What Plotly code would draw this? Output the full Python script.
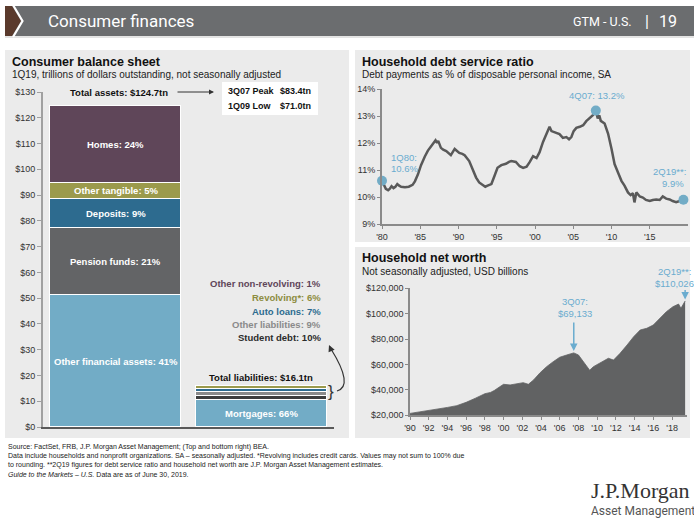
import plotly.graph_objects as go

W, H = 694, 519
def px(x): return x / W
def py(y): return 1 - y / H

FONT = "Liberation Sans, Arial, sans-serif"
LB = "#6aaccf"

# ---------------- DATA ----------------
bar_categories = ["Assets", "Liabilities"]
asset_names = ["Other financial assets", "Pension funds", "Deposits", "Other tangible", "Homes"]
asset_pct = [41, 21, 9, 5, 24]
asset_values = [51.1, 26.2, 11.2, 6.2, 30.0]          # $tn, total 124.7
asset_colors = ["#72acc6", "#636466", "#2d6b8f", "#9b9a4c", "#5f4659"]

liab_names = ["Mortgages", "Student debt", "Other liabilities", "Auto loans", "Revolving*", "Other non-revolving"]
liab_pct = [66, 10, 9, 7, 6, 1]
liab_values = [10.6, 1.6, 1.45, 1.13, 0.97, 0.3]      # $tn, total 16.1
liab_colors = ["#72acc6", "#3d3d3d", "#8a8a8a", "#2d6b8f", "#9b9a4c", "#5f4659"]

bar_ticks = list(range(0, 131, 10))

dsr_year = [1980.0, 1980.25, 1980.5, 1980.8, 1981.0, 1981.25, 1981.5, 1981.75, 1982.0, 1982.25, 1982.5,
            1983.0, 1983.5, 1984.0, 1984.3, 1984.7, 1985.1, 1985.6, 1986.0, 1986.4, 1986.8, 1987.0,
            1987.2, 1987.35, 1987.7, 1988.0, 1988.4, 1988.8, 1989.0, 1989.5, 1989.8, 1990.1, 1990.5,
            1990.8, 1991.4, 1991.9, 1992.3, 1992.7, 1993.2, 1993.5, 1993.8, 1994.3, 1994.7, 1995.1,
            1995.6, 1996.2, 1996.6, 1996.9, 1997.5, 1998.0, 1998.45, 1998.9, 1999.3, 1999.75, 2000.2,
            2000.6, 2001.05, 2001.5, 2001.9, 2002.15, 2002.6, 2003.2, 2003.65, 2004.1, 2004.45, 2004.75,
            2005.05, 2005.4, 2005.85, 2006.3, 2006.7, 2007.15, 2007.6, 2007.95, 2008.2, 2008.4, 2008.6,
            2009.1, 2009.55, 2010.0, 2010.4, 2010.85, 2011.3, 2011.7, 2012.15, 2012.5, 2012.8, 2013.0,
            2013.25, 2013.7, 2014.1, 2014.5, 2015.0, 2015.4, 2015.85, 2016.3, 2016.7, 2017.15, 2017.6,
            2018.0, 2018.45, 2018.9, 2019.4]
dsr_value = [10.6, 10.42, 10.3, 10.25, 10.3, 10.4, 10.33, 10.38, 10.48, 10.42, 10.38,
             10.36, 10.38, 10.45, 10.58, 10.84, 11.18, 11.5, 11.72, 11.87, 12.05, 12.1,
             12.0, 12.08, 11.82, 11.75, 11.7, 11.62, 11.55, 11.78, 11.7, 11.63, 11.6,
             11.55, 11.33, 11.02, 10.72, 10.54, 10.42, 10.38, 10.42, 10.48, 10.78, 11.08,
             11.18, 11.23, 11.3, 11.33, 11.3, 11.14, 11.08, 11.12, 11.29, 11.51, 11.44,
             11.66, 12.04, 12.35, 12.6, 12.44, 12.39, 12.33, 12.19, 12.22, 12.14, 12.22,
             12.44, 12.56, 12.6, 12.66, 12.81, 12.91, 13.04, 13.2, 12.91, 13.02, 12.82,
             12.72, 12.35, 11.79, 11.22, 10.91, 10.6, 10.42, 10.17, 10.07, 10.14, 9.8,
             10.17, 10.02, 9.98, 9.89, 9.85, 9.89, 9.91, 9.89, 10.02, 9.94, 9.91,
             9.85, 9.81, 9.85, 9.9]
dsr_ticks = [1980, 1985, 1990, 1995, 2000, 2005, 2010, 2015]
dsr_ticktext = ["'80", "'85", "'90", "'95", "'00", "'05", "'10", "'15"]
dsr_yticks = [9, 10, 11, 12, 13, 14]

nw_year = [1990.0, 1991.0, 1992.0, 1993.0, 1994.0, 1995.0, 1996.0, 1997.0, 1998.0, 1998.6, 1999.0,
           1999.6, 2000.0, 2000.7, 2001.4, 2002.1, 2002.65, 2003.2, 2003.9, 2004.6, 2005.3, 2006.0,
           2006.75, 2007.5, 2008.0, 2008.55, 2009.2, 2009.6, 2010.3, 2010.85, 2011.2, 2011.75, 2012.45,
           2013.2, 2013.9, 2014.6, 2015.3, 2016.0, 2016.7, 2017.4, 2018.1, 2018.7, 2018.95, 2019.2, 2019.4]
nw_value = [21500, 22600, 23600, 25000, 26200, 27600, 30200, 33500, 37000, 38000, 39500,
            42500, 44400, 43900, 44600, 45700, 44400, 47800, 53500, 58300, 62200, 65700,
            67500, 69133, 67500, 62200, 55500, 58300, 60900, 63500, 64900, 63500, 68800,
            75400, 81900, 87200, 88500, 91100, 96400, 101600, 105500, 107600, 104200, 108200, 110026]
nw_ticks = list(range(1990, 2019, 2))
nw_ticktext = ["'" + str(y)[2:] for y in nw_ticks]
nw_yticks = list(range(20000, 120001, 20000))

# ---------------- FIGURE ----------------
fig = go.Figure()

for name, val, col in zip(asset_names, asset_values, asset_colors):
    fig.add_trace(go.Bar(x=[bar_categories[0]], y=[val], name=name, marker_color=col,
                         marker_line_color="white", marker_line_width=1.2, width=0.9,
                         xaxis="x", yaxis="y", showlegend=False, hoverinfo="skip"))
for name, val, col in zip(liab_names, liab_values, liab_colors):
    fig.add_trace(go.Bar(x=[bar_categories[1]], y=[val], name=name, marker_color=col,
                         marker_line_color="white", marker_line_width=1.0, width=0.9,
                         xaxis="x", yaxis="y", showlegend=False, hoverinfo="skip"))

fig.add_trace(go.Scatter(x=dsr_year, y=dsr_value, mode="lines",
                         line=dict(color="#595959", width=2.5), xaxis="x2", yaxis="y2",
                         showlegend=False, hoverinfo="skip"))
mk_idx = [0, dsr_value.index(max(dsr_value)), len(dsr_value) - 1]
fig.add_trace(go.Scatter(x=[dsr_year[i] for i in mk_idx], y=[dsr_value[i] for i in mk_idx],
                         mode="markers", marker=dict(color="#72acc6", size=10), cliponaxis=False,
                         xaxis="x2", yaxis="y2", showlegend=False, hoverinfo="skip"))

fig.add_trace(go.Scatter(x=nw_year, y=nw_value, mode="lines", fill="tozeroy",
                         fillcolor="#616263", line=dict(color="#616263", width=0.8),
                         xaxis="x3", yaxis="y3", showlegend=False, hoverinfo="skip"))

tickfont = dict(family=FONT, size=9, color="#333")
axis_common = dict(showgrid=False, zeroline=False, showline=True, ticks="outside",
                   tickfont=tickfont, fixedrange=True, automargin=False)

fig.update_layout(
    width=W, height=H, margin=dict(l=0, r=0, t=0, b=0, pad=0),
    paper_bgcolor="white", plot_bgcolor="rgba(0,0,0,0)",
    barmode="stack", bargap=0,
    font=dict(family=FONT, color="#222"),
    xaxis=dict(domain=[px(43), px(334)], type="category", categoryorder="array",
               categoryarray=bar_categories, range=[-0.5, 1.5], showticklabels=False,
               showline=True, linecolor="#595959", linewidth=2, ticks="", anchor="y",
               showgrid=False, zeroline=False, fixedrange=True, automargin=False),
    yaxis=dict(domain=[py(427), py(92)], range=[0, 130], tickvals=bar_ticks,
               ticktext=["$" + str(v) for v in bar_ticks], linecolor="#a0a0a0", linewidth=2,
               ticklen=4, tickcolor="#a0a0a0", anchor="x", **axis_common),
    xaxis2=dict(domain=[px(382), px(688)], range=[1980, 2020], tickvals=dsr_ticks,
                ticktext=dsr_ticktext, linecolor="#8a8a8a", linewidth=2, ticklen=3,
                tickcolor="#8a8a8a", anchor="y2", **axis_common),
    yaxis2=dict(domain=[py(224), py(89)], range=[9, 14], tickvals=dsr_yticks,
                ticktext=[str(v) + "%" for v in dsr_yticks], linecolor="#8a8a8a", linewidth=2,
                ticklen=3, tickcolor="#8a8a8a", anchor="x2", **axis_common),
    xaxis3=dict(domain=[px(410), px(687)], range=[1990, 2019.6], tickvals=nw_ticks,
                ticktext=nw_ticktext, linecolor="#8a8a8a", linewidth=1.5, ticklen=3,
                tickcolor="#8a8a8a", anchor="y3", **axis_common),
    yaxis3=dict(domain=[py(415.3), py(288.3)], range=[20000, 120000], tickvals=nw_yticks,
                ticktext=["${:,}".format(v) for v in nw_yticks], linecolor="#8a8a8a",
                linewidth=1.5, ticklen=3, tickcolor="#8a8a8a", anchor="x3", **axis_common),
)

shapes = []
# panel backgrounds
for x0, y0, x1, y1 in [(5, 50, 349, 438), (355, 50, 690, 242), (355, 247, 690, 438)]:
    shapes.append(dict(type="rect", xref="paper", yref="paper", x0=px(x0), x1=px(x1),
                       y0=py(y1), y1=py(y0), fillcolor="#ebebeb", line_width=0, layer="below"))
# header
shapes.append(dict(type="rect", xref="paper", yref="paper", x0=px(5), x1=px(694), y0=py(36), y1=py(6),
                   fillcolor="#6b6d6f", line_width=0, layer="below"))
shapes.append(dict(type="line", xref="paper", yref="paper", x0=px(5), x1=px(694), y0=py(37), y1=py(37),
                   line=dict(color="#c8c8c8", width=1), layer="below"))
def path(pts, close=True):
    s = "M " + " L ".join(f"{px(x)},{py(y)}" for x, y in pts)
    return s + (" Z" if close else "")
shapes.append(dict(type="path", xref="paper", yref="paper",
                   path=path([(5, 6), (12, 6), (21, 21), (12, 36), (5, 36)]),
                   fillcolor="#5a3a2c", line_width=0))
shapes.append(dict(type="path", xref="paper", yref="paper",
                   path=path([(13, 5), (22.5, 21), (13, 37)], close=False),
                   line=dict(color="white", width=2.2)))
# white box peak/low
shapes.append(dict(type="rect", xref="paper", yref="paper", x0=px(222), x1=px(318), y0=py(115), y1=py(82),
                   fillcolor="white", line_width=0))
# curved arrow from brace
shapes.append(dict(type="path", xref="paper", yref="paper",
                   path=f"M {px(337)},{py(391)} Q {px(354)},{py(386)} {px(331)},{py(349)}",
                   line=dict(color="#333", width=1.2)))
fig.update_layout(shapes=shapes)

ann = []
def text(x, y, s, size=9.5, color="#222", bold=False, anchor="left", family=FONT, italic=False, yanchor="middle"):
    t = f"<b>{s}</b>" if bold else s
    if italic:
        t = f"<i>{t}</i>"
    ann.append(dict(x=px(x), y=py(y), xref="paper", yref="paper", text=t, showarrow=False,
                    xanchor=anchor, yanchor=yanchor, font=dict(family=family, size=size, color=color)))

# header text
text(46, 21, "Consumer finances", size=17, color="white", family="Roboto, Open Sans, sans-serif")
text(634, 22, "GTM - U.S.", size=12.5, color="white", anchor="right", family="Roboto, sans-serif")
text(647, 21, "|", size=16, color="white", anchor="center", family="Roboto, sans-serif")
text(657, 21, "19", size=16, color="white", anchor="left", family="Roboto, sans-serif")

# panel titles
text(10, 62, "Consumer balance sheet", size=12.5, bold=True, color="#111")
text(10, 75, "1Q19, trillions of dollars outstanding, not seasonally adjusted", size=10, color="#222")
text(360, 62, "Household debt service ratio", size=12.5, bold=True, color="#111")
text(360, 75, "Debt payments as % of disposable personal income, SA", size=10, color="#222")
text(360, 258, "Household net worth", size=12.5, bold=True, color="#111")
text(360, 271, "Not seasonally adjusted, USD billions", size=10, color="#222")

# bar segment labels (placed in data coordinates)
cum = 0
for name, pct, val in zip(asset_names, asset_pct, asset_values):
    ann.append(dict(x=bar_categories[0], y=cum + val / 2, xref="x", yref="y", showarrow=False,
                    text=f"<b>{name}: {pct}%</b>", font=dict(family=FONT, size=9.5, color="white")))
    cum += val
ann.append(dict(x=bar_categories[1], y=liab_values[0] / 2, xref="x", yref="y", showarrow=False,
                text=f"<b>{liab_names[0]}: {liab_pct[0]}%</b>", font=dict(family=FONT, size=9.5, color="white")))

text(119, 92, f"Total assets: ${sum(asset_values):.1f}tn", size=9.5, bold=True, anchor="center", color="#111")
ann.append(dict(x=px(214), y=py(92), xref="paper", yref="paper", ax=-38, ay=0, text="",
                showarrow=True, arrowhead=2, arrowsize=1, arrowwidth=1, arrowcolor="#333"))
text(226, 91, "3Q07 Peak", size=9, bold=True, color="#111")
text(278, 91, "$83.4tn", size=9, bold=True, color="#111")
text(226, 106, "1Q09 Low", size=9, bold=True, color="#111")
text(278, 106, "$71.0tn", size=9, bold=True, color="#111")

text(261, 377, f"Total liabilities: ${sum(liab_values):.1f}tn", size=9.5, bold=True, anchor="center", color="#111")
# liability legend text
leg_y = [283, 297, 311, 324, 337]
leg_col = {5: "#5f4659", 4: "#8d8c3f", 3: "#2d6b8f", 2: "#8a8a8a", 1: "#2b2b2b"}
for i, idx in enumerate([5, 4, 3, 2, 1]):
    text(323, leg_y[i], f"{liab_names[idx]}: {liab_pct[idx]}%", size=9.5, bold=True,
         color=leg_col[idx], anchor="right")
text(331, 391, "}", size=17, color="#333", anchor="center", family="Liberation Sans")
ann.append(dict(x=px(329), y=py(345), xref="paper", yref="paper", ax=3, ay=7, text="",
                showarrow=True, arrowhead=2, arrowsize=1.1, arrowwidth=1.2, arrowcolor="#333"))

# debt service ratio labels
text(597, 95, f"4Q07: {max(dsr_value):.1f}%", size=9.5, color=LB, anchor="center")
text(389, 157, "1Q80:", size=9.5, color=LB)
text(389, 168, f"{dsr_value[0]:.1f}%", size=9.5, color=LB)
text(688, 171, "2Q19**:", size=9.5, color=LB, anchor="right")
text(686, 183, f"{dsr_value[-1]:.1f}%", size=9.5, color=LB, anchor="right")

# net worth labels
pk = nw_value.index(max(nw_value[:30]))
text(575, 301, "3Q07:", size=9.5, color=LB, anchor="center")
text(575, 313, "${:,}".format(nw_value[pk]), size=9.5, color=LB, anchor="center")
ann.append(dict(x=nw_year[pk], y=nw_value[pk] + 1500, xref="x3", yref="y3", ax=0, ay=-30, text="",
                showarrow=True, arrowhead=2, arrowsize=1, arrowwidth=1.5, arrowcolor=LB))
text(674, 271, "2Q19**:", size=9.5, color=LB, anchor="center")
text(674, 283, "${:,}".format(nw_value[-1]), size=9.5, color=LB, anchor="center")
ann.append(dict(x=nw_year[-1], y=nw_value[-1] + 1200, xref="x3", yref="y3", ax=0, ay=-11, text="",
                showarrow=True, arrowhead=2, arrowsize=1, arrowwidth=1.5, arrowcolor=LB))

# footer
FS = 7.0
text(6, 447, "Source: FactSet, FRB, J.P. Morgan Asset Management; (Top and bottom right) BEA.", size=FS)
text(6, 456, "Data include households and nonprofit organizations. SA – seasonally adjusted. *Revolving includes credit cards. Values may not sum to 100% due", size=FS)
text(6, 465, "to rounding. **2Q19 figures for debt service ratio and household net worth are J.P. Morgan Asset Management estimates.", size=FS)
ann.append(dict(x=px(6), y=py(474), xref="paper", yref="paper", showarrow=False, xanchor="left", yanchor="middle",
                text="<i>Guide to the Markets – U.S.</i> Data are as of June 30, 2019.",
                font=dict(family=FONT, size=FS, color="#222")))

# logo
text(589, 490, "J.P.Morgan", size=22, color="#333", family="Liberation Serif, serif")
text(589, 511, "Asset Management", size=12, color="#555", family="Liberation Sans Narrow, Roboto, sans-serif")

fig.update_layout(annotations=ann)
fig.write_html("out.html")
